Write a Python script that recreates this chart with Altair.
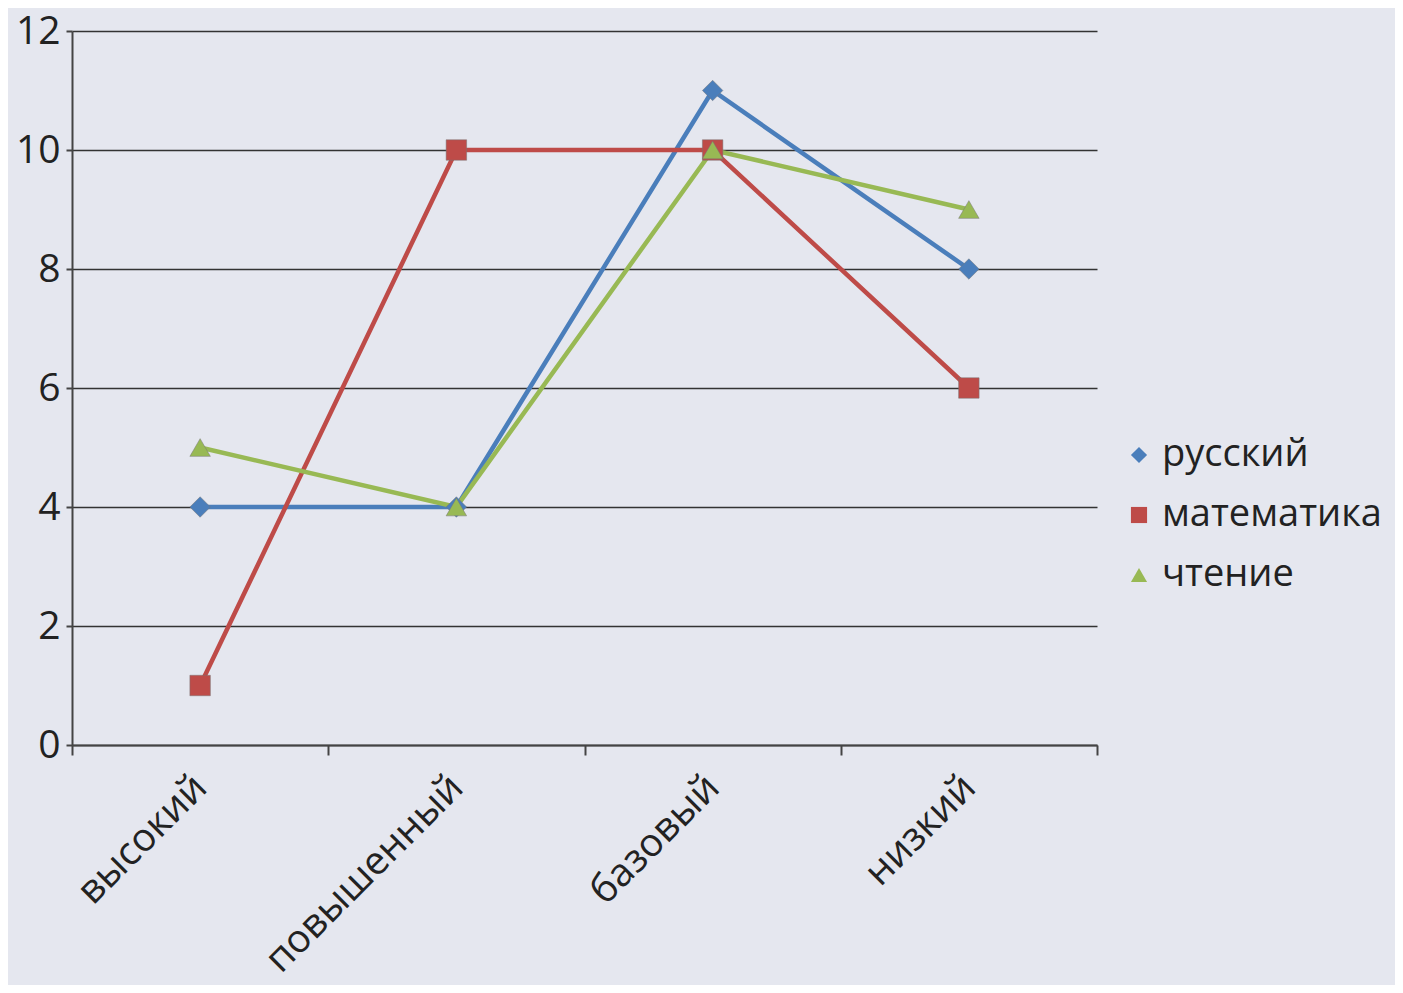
import altair as alt
import pandas as pd

categories = ["высокий", "повышенный", "базовый", "низкий"]
series = ["русский", "математика", "чтение"]
russian = [4, 4, 11, 8]
math = [1, 10, 10, 6]
reading = [5, 4, 10, 9]
colors = ["#4a7ebb", "#be4b48", "#98b954"]
shapes = ["diamond", "square", "triangle-up"]

rows = []
for name, vals in zip(series, [russian, math, reading]):
    for c, v in zip(categories, vals):
        rows.append({"level": c, "subject": name, "value": v})
df = pd.DataFrame(rows)

FONT = "Open Sans"

x = alt.X("level:N", sort=categories, title=None,
          scale=alt.Scale(paddingInner=0, paddingOuter=0),
          axis=alt.Axis(labelAngle=-45, labelAlign="right", labelBaseline="middle",
                        labelFontSize=39, labelColor="#222", labelFont=FONT, labelLimit=0,
                        tickBand="extent", tickSize=10, tickColor="#444", tickWidth=2,
                        domainColor="#444", domainWidth=2, labelPadding=26, grid=False))
y = alt.Y("value:Q", title=None,
          scale=alt.Scale(domain=[0, 12]),
          axis=alt.Axis(values=[0, 2, 4, 6, 8, 10, 12], labelFontSize=39, labelFont=FONT,
                        labelColor="#222", tickSize=6, tickColor="#444", tickWidth=2,
                        domainColor="#444", domainWidth=2, labelPadding=6,
                        grid=True, gridColor="#333", gridWidth=1.5))
legend = alt.Legend(title=None, orient="none", legendX=1048, legendY=405,
                    labelFontSize=38, labelFont=FONT, labelColor="#222", labelLimit=0,
                    symbolSize=260, rowPadding=22, symbolStrokeWidth=0, labelOffset=4)
color = alt.Color("subject:N", sort=series, scale=alt.Scale(domain=series, range=colors),
                  legend=legend)
shape = alt.Shape("subject:N", sort=series, scale=alt.Scale(domain=series, range=shapes),
                  legend=legend)

lines = alt.Chart(df).mark_line(strokeWidth=4.5).encode(
    x=x, y=y, color=color, detail="subject:N")
points = alt.Chart(df).mark_point(filled=True, size=420, opacity=1, stroke="#777", strokeWidth=0.5).encode(
    x=x, y=y, color=color, shape=shape)

chart = alt.layer(lines, points).properties(
    width=1025, height=714,
    autosize=alt.AutoSizeParams(type="none"),
    padding={"left": 64, "top": 23, "right": 298, "bottom": 240},
    background="#e5e7ef",
).configure_view(stroke=None)

chart.save("out.html", embed_options={"renderer": "svg", "actions": False})
